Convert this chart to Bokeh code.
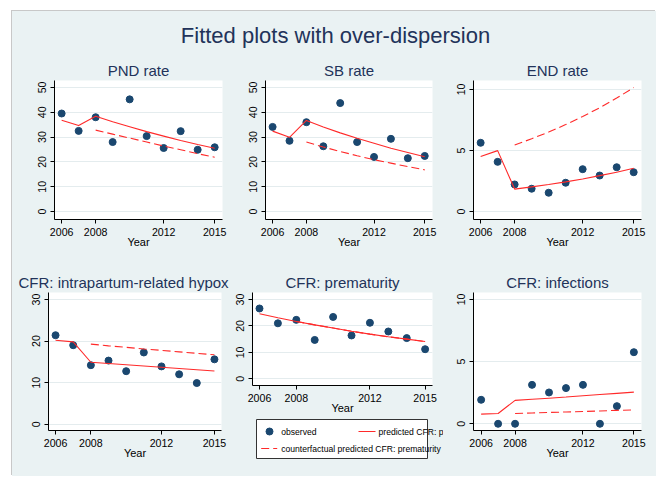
import math
from bokeh.plotting import figure
from bokeh.models import Range1d, FixedTicker, Label
from bokeh.layouts import column, row
from bokeh.embed import file_html
from bokeh.resources import INLINE
from bokeh.core.properties import value

# ---------------- data ----------------
years = [2006, 2007, 2008, 2009, 2010, 2011, 2012, 2013, 2014, 2015]
years_cf = [2008, 2009, 2010, 2011, 2012, 2013, 2014, 2015]
x_ticks = [2006, 2008, 2012, 2015]

pnd_obs = [39.5, 32.5, 38.0, 28.0, 45.2, 30.4, 25.6, 32.4, 24.9, 25.9]
pnd_pred = [36.8, 34.7, 38.4, 36.2, 34.2, 32.2, 30.4, 28.6, 27.0, 25.5]
pnd_cf = [32.8, 31.2, 29.6, 28.0, 26.4, 24.9, 23.3, 21.9]

sb_obs = [34.1, 28.5, 36.0, 26.3, 43.7, 28.0, 22.0, 29.3, 21.5, 22.4]
sb_pred = [32.4, 29.9, 36.7, 34.1, 31.7, 29.5, 27.5, 25.5, 23.8, 22.1]
sb_cf = [28.0, 26.0, 24.2, 22.5, 20.9, 19.5, 18.1, 16.8]

end_obs = [5.63, 4.07, 2.22, 1.87, 1.54, 2.36, 3.47, 2.95, 3.63, 3.22]
end_pred = [4.5, 4.99, 1.84, 2.02, 2.22, 2.43, 2.67, 2.94, 3.22, 3.55]
end_cf = [5.45, 5.96, 6.51, 7.12, 7.78, 8.5, 9.29, 10.15]

hyp_obs = [21.4, 19.0, 14.2, 15.3, 12.75, 17.25, 13.9, 12.0, 9.9, 15.6]
hyp_pred = [20.2, 19.8, 14.9, 14.6, 14.3, 14.0, 13.7, 13.4, 13.1, 12.8]
hyp_cf = [19.25, 18.85, 18.5, 18.1, 17.75, 17.4, 17.05, 16.7]

pre_obs = [26.6, 21.0, 22.3, 14.7, 23.4, 16.4, 21.2, 17.9, 15.4, 11.2]
pre_pred = [24.6, 23.1, 21.7, 20.4, 19.2, 18.0, 16.9, 15.9, 15.0, 14.1]
pre_cf = [21.7, 20.4, 19.2, 18.0, 16.9, 15.9, 15.0, 14.1]

inf_obs = [1.93, 0.0, 0.0, 3.13, 2.52, 2.87, 3.13, 0.0, 1.42, 5.76]
inf_pred = [0.78, 0.83, 1.88, 1.97, 2.06, 2.15, 2.25, 2.35, 2.45, 2.55]
inf_cf = [0.83, 0.87, 0.91, 0.95, 0.99, 1.03, 1.08, 1.12]

main_title = "Fitted plots with over-dispersion"
panel_titles = ["PND rate", "SB rate", "END rate",
                "CFR: intrapartum-related hypox", "CFR: prematurity", "CFR: infections"]
legend_labels = ["observed", "predicted CFR: p",
                 "counterfactual predicted CFR: prematurity"]

# ---------------- style ----------------
BG = "#EAF2F3"
NAVY = "#1A476F"
RED = "#FF2A2A"
TCOL = "#22335A"
FONT = "Liberation Sans"
GRID = "#E4ECEE"


def panel(title, obs, pred, cf, w, h, borders, xr, yr, yticks,
          title_align="center", title_offset=0):
    l, r, t, b = borders
    p = figure(width=w, height=h, x_range=Range1d(*xr), y_range=Range1d(*yr),
               output_backend="svg", toolbar_location=None,
               min_border_left=l, min_border_right=r,
               min_border_top=t, min_border_bottom=b,
               background_fill_color="white", border_fill_color=BG,
               outline_line_color=None)
    try:
        p.frame_align = False
    except Exception:
        pass
    p.title.text = title
    p.title.align = title_align
    p.title.offset = title_offset
    p.title.text_font = FONT
    p.title.text_font_size = "15px"
    p.title.text_font_style = "normal"
    p.title.text_color = TCOL
    try:
        p.title.standoff = 3
    except Exception:
        pass
    p.scatter(years, obs, size=7, color=NAVY)
    p.line(years, pred, line_color=RED, line_width=1.1)
    p.line(years_cf, cf, line_color=RED, line_width=1.1, line_dash="8 4")

    p.xaxis.ticker = FixedTicker(ticks=x_ticks)
    p.yaxis.ticker = FixedTicker(ticks=yticks)
    p.xaxis.axis_label = "Year"
    for ax in p.axis:
        ax.axis_line_color = "black"
        ax.axis_line_width = 1
        ax.major_tick_line_color = "black"
        ax.minor_tick_line_color = None
        ax.major_tick_out = 4
        ax.major_tick_in = 0
        ax.major_label_text_font = FONT
        ax.major_label_text_font_size = "10.6px"
        ax.major_label_text_color = "black"
        ax.major_label_standoff = 4
    p.yaxis.major_label_orientation = "parallel"
    p.xaxis.axis_label_text_font = FONT
    p.xaxis.axis_label_text_font_size = "11px"
    p.xaxis.axis_label_text_font_style = "normal"
    p.xaxis.axis_label_text_color = "black"
    p.xaxis.axis_label_standoff = -3
    p.xgrid.visible = False
    p.ygrid.grid_line_color = GRID
    p.ygrid.grid_line_width = 1
    return p


def blank(w, h):
    f = figure(width=w, height=h, x_range=Range1d(0, w), y_range=Range1d(h, 0),
               output_backend="svg", toolbar_location=None, min_border=0,
               x_axis_location=None, y_axis_location=None,
               background_fill_color=BG, border_fill_color=BG, outline_line_color=None)
    try:
        f.frame_align = False
    except Exception:
        pass
    f.grid.visible = False
    return f


# title strip
tf = blank(644, 39)
tf.add_layout(Label(x=323, y=24, text=main_title, text_align="center",
                    text_baseline="middle", text_font=FONT, text_font_size="22px",
                    text_color=TCOL))

xr1 = (2005.58, 2015.46)
p1 = panel(panel_titles[0], pnd_obs, pnd_pred, pnd_cf, 228, 200, (42, 18, 30, 30),
           xr1, (-3.2, 52.8), [0, 10, 20, 30, 40, 50])
p2 = panel(panel_titles[1], sb_obs, sb_pred, sb_cf, 207, 200, (25, 15, 30, 30),
           xr1, (-3.2, 52.8), [0, 10, 20, 30, 40, 50])
p3 = panel(panel_titles[2], end_obs, end_pred, end_cf, 209, 200, (26, 15, 30, 30),
           xr1, (-0.65, 10.73), [0, 5, 10])

p4 = panel(panel_titles[3], hyp_obs, hyp_pred, hyp_cf, 218, 226,
           (36, 9, 42, 46), (2005.60, 2015.40), (-1.52, 31.68), [0, 10, 20, 30],
           title_align="left", title_offset=-30)
p5 = panel(panel_titles[4], pre_obs, pre_pred, pre_cf, 213, 166, (22, 11, 42, 31),
           (2005.62, 2015.40), (-2.53, 32.65), [0, 10, 20, 30])
p6 = panel(panel_titles[5], inf_obs, inf_pred, inf_cf, 213, 226, (30, 15, 42, 46),
           (2005.55, 2015.45), (-0.54, 10.56), [0, 5, 10])

# legend strip (pixel coordinates inside its own box)
leg = blank(213, 60)
leg.quad(left=[26], right=[197], top=[3], bottom=[42], fill_color="white",
         line_color="#333333", line_width=1)
leg.scatter([39], [15], size=7, color=NAVY)
leg.line([128, 145], [15, 15], line_color=RED, line_width=1.1)
leg.line([30.7, 46.7], [32, 32], line_color=RED, line_width=1.1, line_dash="8 4")
leg.text(x=[50.7, 148, 50.7], y=[15, 15, 32], text=legend_labels,
         text_baseline="middle", text_align="left", text_font=value(FONT),
         text_font_size="8.6px", text_color="black")

layout = column(tf, row(p1, p2, p3), row(p4, column(p5, leg), p6))
layout.styles = {"margin-left": "12px", "margin-top": "11px",
                 "background-color": BG,
                 "box-shadow": "-1px -1px 0 0 #C8C8C8"}

open("out.html", "w").write(file_html(layout, INLINE))
